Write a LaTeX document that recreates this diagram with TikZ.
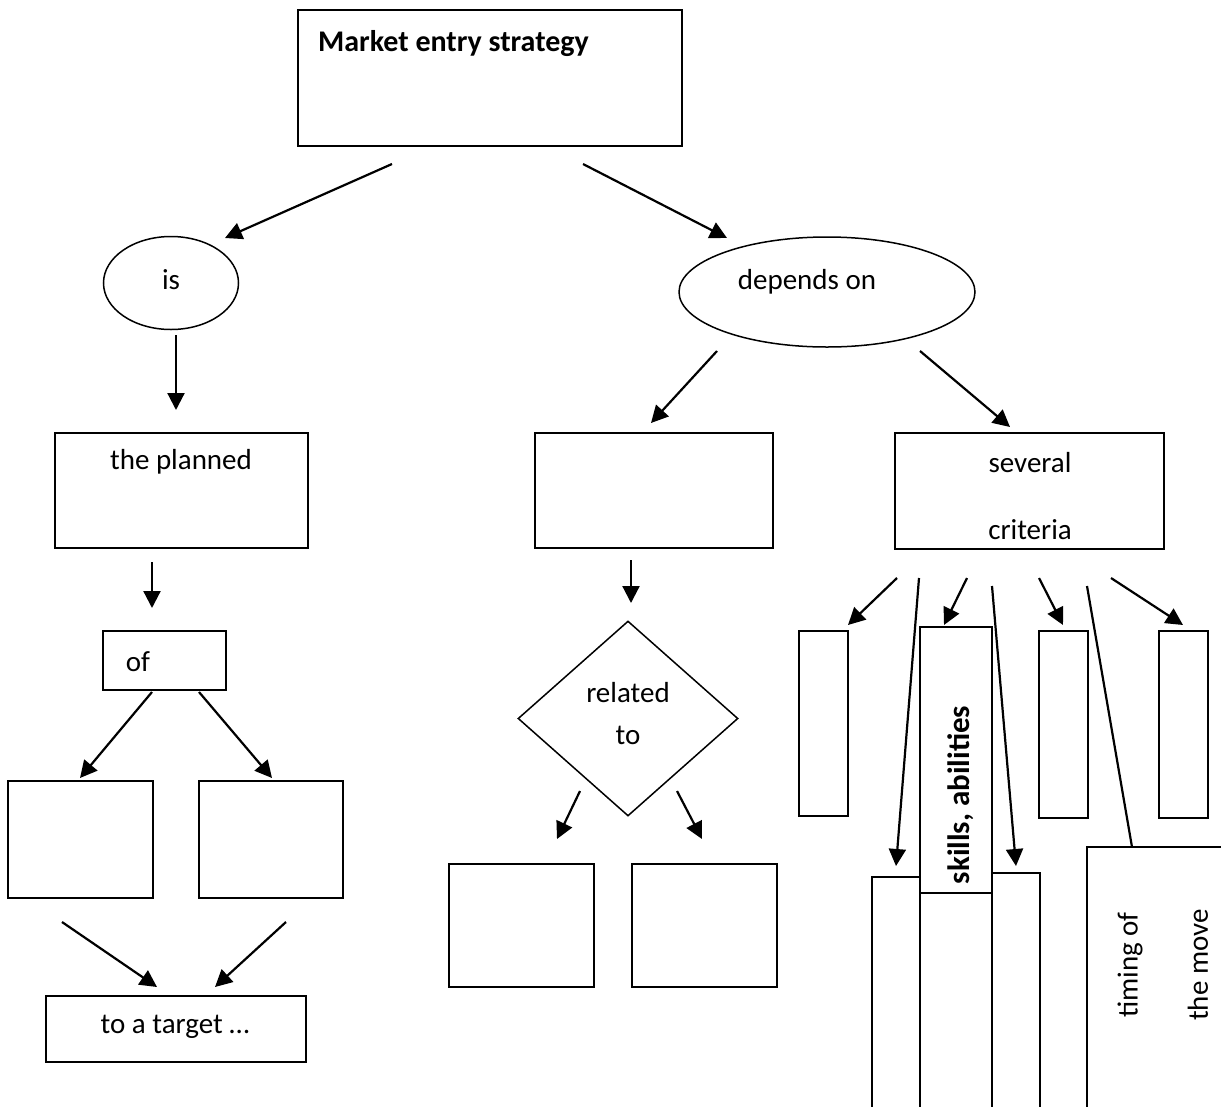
\documentclass[tikz,border=0pt]{standalone}
\usepackage{fontspec}
\setmainfont{Carlito}
\usepackage{tikz}
\usetikzlibrary{arrows.meta}
\usetikzlibrary{shapes.geometric}
\tikzstyle{box}=[draw=black, line width=1.5pt, fill=white, rectangle, inner sep=0pt]
\tikzstyle{oval}=[draw=black, line width=1.5pt, fill=white, ellipse, inner sep=0pt]
\tikzstyle{rhomb}=[draw=black, line width=1.5pt, fill=white, diamond, inner sep=0pt]
\tikzstyle{txt}=[inner sep=0pt, font=\fontsize{29}{42}\selectfont]
\tikzstyle{boldtxt}=[inner sep=0pt, font=\fontsize{30}{42}\selectfont\bfseries]
\tikzstyle{arr}=[line width=2.2pt, -{Triangle[length=17pt,width=17pt]}]

\begin{document}
\begin{tikzpicture}[x=1pt, y=-1pt]
\clip (0,0) rectangle (1221,1106);
\fill[white] (0,0) rectangle (1221,1106);
% top of the map
\node[box, minimum width=384pt, minimum height=136pt] (top) at (490,78){};
\node[boldtxt, anchor=base west] (toptxt) at (318,51){Market entry strategy};
\node[oval, minimum width=135pt, minimum height=93pt] (is) at (171,283){};
\node[txt] (istxt) at (171,280){is};
\node[oval, minimum width=296pt, minimum height=110pt] (dep) at (827,292){};
\node[txt] (deptxt) at (807,282){depends on};
\coordinate (a1s) at (392,164);
\coordinate (a1e) at (225,238);
\coordinate (a2s) at (583,164);
\coordinate (a2e) at (727,238);
\draw[arr](a1s) -- (a1e);
\draw[arr](a2s) -- (a2e);
% left branch
\node[box, minimum width=253pt, minimum height=115pt] (plan) at (181.5,490.5){};
\node[txt] (plantxt) at (181,462){the planned};
\node[box, minimum width=123pt, minimum height=59pt] (of) at (164.5,660.5){};
\node[txt] (oftxt) at (138,662){of};
\node[box, minimum width=145pt, minimum height=117pt] (lb1) at (80.5,839.5){};
\node[box, minimum width=144pt, minimum height=117pt] (lb2) at (271,839.5){};
\node[box, minimum width=260pt, minimum height=66pt] (tgt) at (176,1029){};
\node[txt] (tgttxt) at (175,1027){to a target …};
\coordinate (a3s) at (176,335);
\coordinate (a3e) at (176,410);
\coordinate (a4s) at (152,562);
\coordinate (a4e) at (152,608);
\coordinate (a5s) at (152,692);
\coordinate (a5e) at (80,778);
\coordinate (a6s) at (199,692);
\coordinate (a6e) at (272,778);
\coordinate (a7s) at (62,922);
\coordinate (a7e) at (157,987);
\coordinate (a8s) at (286,922);
\coordinate (a8e) at (215,987);
\draw[arr](a3s) -- (a3e);
\draw[arr](a4s) -- (a4e);
\draw[arr](a5s) -- (a5e);
\draw[arr](a6s) -- (a6e);
\draw[arr](a7s) -- (a7e);
\draw[arr](a8s) -- (a8e);
% middle branch
\node[box, minimum width=238pt, minimum height=115pt] (mid) at (654,490.5){};
\node[rhomb, minimum width=220pt, minimum height=195pt] (rel) at (628,718.5){};
\node[txt, align=center] (reltxt) at (628,714){related\\to};
\node[box, minimum width=145pt, minimum height=123pt] (mb1) at (521.5,925.5){};
\node[box, minimum width=145pt, minimum height=123pt] (mb2) at (704.5,925.5){};
\coordinate (a9s) at (717,351);
\coordinate (a9e) at (651,423);
\coordinate (a10s) at (631,560);
\coordinate (a10e) at (631,603);
\coordinate (a11s) at (580,791);
\coordinate (a11e) at (557,839);
\coordinate (a12s) at (677,791);
\coordinate (a12e) at (702,839);
\draw[arr](a9s) -- (a9e);
\draw[arr](a10s) -- (a10e);
\draw[arr](a11s) -- (a11e);
\draw[arr](a12s) -- (a12e);
% right branch
\node[box, minimum width=269pt, minimum height=116pt] (crit) at (1029.5,491){};
\node[txt] (crittxt1) at (1030,463){several};
\node[txt] (crittxt2) at (1030,530){criteria};
\node[box, minimum width=49pt, minimum height=185pt] (c1) at (823.5,723.5){};
\node[box, minimum width=49pt, minimum height=187pt] (c3) at (1063.5,724.5){};
\node[box, minimum width=49pt, minimum height=187pt] (c4) at (1183.5,724.5){};
\node[box, minimum width=48pt, minimum height=263pt] (c5) at (896,1008.5){};
\node[box, minimum width=72pt, minimum height=247pt] (c6) at (956,1016.5){};
\node[box, minimum width=48pt, minimum height=267pt] (c7) at (1016,1006.5){};
\node[box, minimum width=72pt, minimum height=266pt] (skill) at (956,760){};
\node[boldtxt, font=\fontsize{31}{42}\selectfont\bfseries, rotate=90] (skilltxt) at (961,795){skills, abilities};
\node[box, minimum width=163pt, minimum height=293pt] (time) at (1168.5,993.5){};
\node[txt, rotate=90] (timetxt1) at (1130,965){timing of};
\node[txt, rotate=90] (timetxt2) at (1198,965){the move};
\coordinate (a13s) at (920,351);
\coordinate (a13e) at (1010,427);
\coordinate (a14s) at (897,578);
\coordinate (a14e) at (848,625);
\coordinate (a15s) at (919,578);
\coordinate (a15e) at (896,866);
\coordinate (a16s) at (967,578);
\coordinate (a16e) at (944,625);
\coordinate (a17s) at (992,586);
\coordinate (a17e) at (1016,866);
\coordinate (a18s) at (1039,578);
\coordinate (a18e) at (1063,625);
\coordinate (a19s) at (1087,586);
\coordinate (a19e) at (1132,847);
\coordinate (a20s) at (1111,578);
\coordinate (a20e) at (1183,625);
\draw[arr](a13s) -- (a13e);
\draw[arr](a14s) -- (a14e);
\draw[arr](a15s) -- (a15e);
\draw[arr](a16s) -- (a16e);
\draw[arr](a17s) -- (a17e);
\draw[arr](a18s) -- (a18e);
\draw[line width=2.2pt](a19s) -- (a19e);
\draw[arr](a20s) -- (a20e);
\end{tikzpicture}
\end{document}
